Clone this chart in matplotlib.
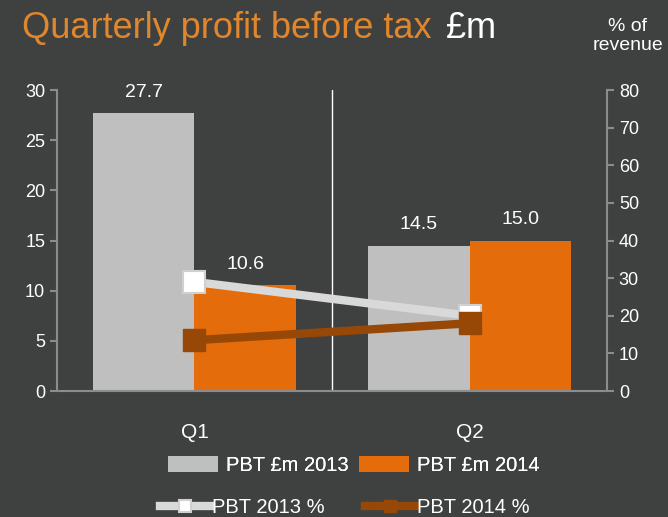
import matplotlib.pyplot as plt
import numpy as np

plt.rcParams['font.family'] = ['Liberation Sans', 'DejaVu Sans']

# data
quarters = ['Q1', 'Q2']
pbt_2013 = [27.7, 14.5]
pbt_2014 = [10.6, 15.0]
pct_2013 = [29.0, 20.0]
pct_2014 = [13.5, 18.0]

bg = '#3f4140'
grey_bar = '#bfbfbf'
orange_bar = '#e46c0a'
line13 = '#d9d9d9'
line14 = '#974706'
spine_c = '#8c8c8c'
txt = 'white'

fig = plt.figure(figsize=(6.68, 5.17), dpi=100, facecolor=bg)
ax = fig.add_axes([0.0853, 0.2437, 0.8234, 0.5822])
ax.set_facecolor(bg)

x = np.arange(len(quarters))
w = 0.37
b1 = ax.bar(x - w / 2, pbt_2013, w, color=grey_bar, label='PBT £m 2013', zorder=2)
b2 = ax.bar(x + w / 2, pbt_2014, w, color=orange_bar, label='PBT £m 2014', zorder=2)
for bars, vals in [(b1, pbt_2013), (b2, pbt_2014)]:
    for r, v in zip(bars, vals):
        ax.text(r.get_x() + r.get_width() / 2, v + 1.2, f'{v:.1f}', ha='center', va='bottom',
                color=txt, fontsize=14)

ax.axvline(0.5, color='white', lw=1, zorder=1)
ax.set_xlim(-0.5, 1.5)
ax.set_ylim(0, 30)
ax.set_yticks(range(0, 31, 5))
ax.set_xticks(x)
ax.set_xticklabels(quarters, fontsize=15, color=txt)
ax.tick_params(axis='x', length=0, pad=23)
ax.tick_params(axis='y', colors=spine_c, labelcolor=txt, labelsize=13, length=5, width=1.5, direction='out')
for s in ['top', 'right']:
    ax.spines[s].set_visible(False)
for s in ['left', 'bottom']:
    ax.spines[s].set_color(spine_c)
    ax.spines[s].set_linewidth(1.5)

ax2 = ax.twinx()
ax2.set_ylim(0, 80)
ax2.set_yticks(range(0, 81, 10))
l1, = ax2.plot(x, pct_2013, color=line13, lw=6, marker='s', markersize=16,
               markerfacecolor='white', markeredgecolor='#d0d0d0', markeredgewidth=1.5,
               label='PBT 2013 %', zorder=3)
l2, = ax2.plot(x, pct_2014, color=line14, lw=6, marker='s', markersize=16,
               markerfacecolor=line14, markeredgecolor=line14, label='PBT 2014 %', zorder=4)
ax2.tick_params(axis='y', colors=spine_c, labelcolor=txt, labelsize=13, length=5, width=1.5)
for s in ['top', 'left', 'bottom']:
    ax2.spines[s].set_visible(False)
ax2.spines['right'].set_color(spine_c)
ax2.spines['right'].set_linewidth(1.5)

fig.text(0.033, 0.945, 'Quarterly profit before tax', color='#e0862c', fontsize=26, va='center')
fig.text(0.668, 0.945, '£m', color=txt, fontsize=26, va='center')
fig.text(0.94, 0.93, '% of\nrevenue', color=txt, fontsize=14, ha='center', va='center',
         linespacing=1.2)

leg1 = fig.legend(handles=[b1, b2], loc='center', bbox_to_anchor=(0.53, 0.1), ncol=2,
                  frameon=False, fontsize=14.5, labelcolor=txt, handlelength=2.5,
                  handleheight=0.8, handletextpad=0.4, columnspacing=0.5)
fig.legend(handles=[l1, l2], loc='center', bbox_to_anchor=(0.516, 0.018), ncol=2,
           frameon=False, fontsize=14.5, labelcolor=txt, handlelength=2.5,
           handletextpad=0.1, columnspacing=2.0, markerscale=0.5)
fig.add_artist(leg1)

fig.savefig('out.png', dpi=100, facecolor=bg)
